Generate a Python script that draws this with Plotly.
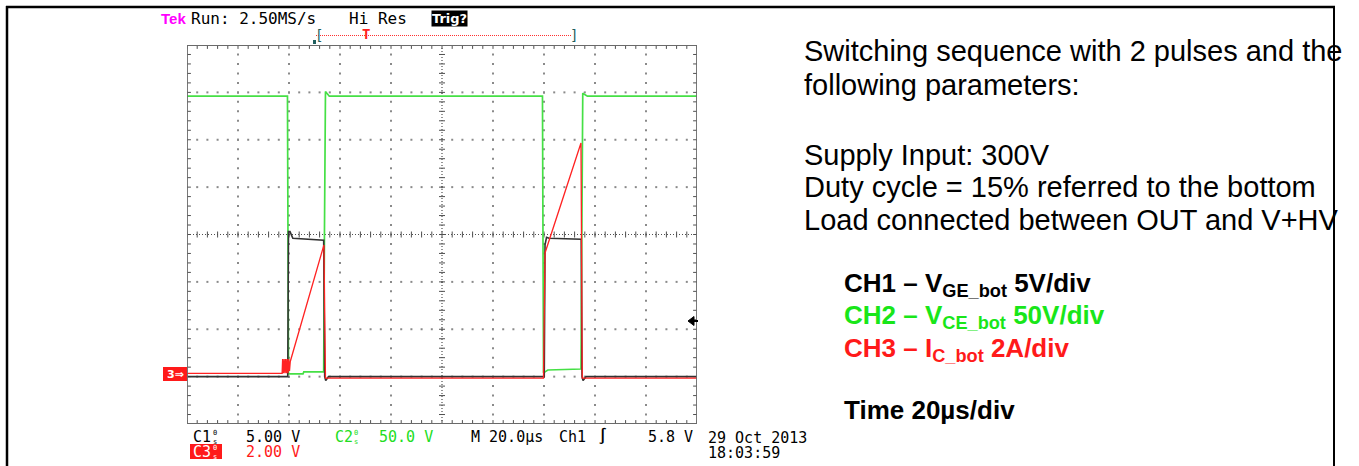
import plotly.graph_objects as go

W, H = 1359, 466

TIME_PER_DIV = 20.0            # µs/div
CH1_SCALE, CH1_GND = 5.0, -3.0     # V/div, ground position in divisions
CH2_SCALE, CH2_GND = 50.0, -3.0    # V/div
CH3_SCALE, CH3_GND = 2.0, -2.93    # A/div

# CH1 - V_GE bottom (V)
t_ch1 = [0, 39.5, 39.8, 40.4, 41.5, 53.6, 54.0, 54.4, 55.5,
         140.1, 140.4, 141.0, 142.0, 154.6, 154.9, 155.3, 156.5, 200]
v_ge = [0, 0, 15.3, 15.3, 14.6, 14.4, 0, -0.4, 0,
        0, 13.9, 14.7, 14.6, 14.5, 0, -0.4, 0, 0]

# CH2 - V_CE bottom (V)
t_ch2 = [0, 39.4, 39.8, 45.5, 45.8, 53.6, 53.9, 54.3, 55.8,
         139.4, 139.8, 141.5, 154.5, 154.8, 155.2, 157.0, 200]
v_ce = [296, 296, 3, 3, 5, 5, 150, 301, 296,
        296, 4, 7, 8, 150, 299, 296, 296]

# CH3 - I_C bottom (A)
t_ch3 = [0, 37.3, 37.5, 37.8, 38.1, 38.4, 38.7, 39.0, 39.3, 39.6, 39.9, 40.2, 40.5,
         53.7, 54.3, 139.8, 140.4, 154.5, 155.0, 200]
i_c = [0, 0, 0.6, 0.0, 0.6, 0.0, 0.6, 0.0, 0.6, 0.0, 0.6, 0.1, 0.5,
       5.42, -0.2, -0.2, 5.08, 9.72, -0.2, -0.2]

# ---------------- helpers ----------------
def to_div(vals, scale, gnd):
    return [v / scale + gnd for v in vals]

def px(x):
    return x / W

def py(y):
    return 1 - y / H

X0, X1, Y0, Y1 = 187, 697, 45, 424   # graticule in pixels
NDX, NDY = 10, 8
TMAX = NDX * TIME_PER_DIV

fig = go.Figure()

# ---------------- graticule ----------------
grid_col = "#8a8a8a"
gx, gy = [], []
for k in range(1, NDX):
    if k == NDX // 2:
        continue
    for j in range(0, NDY * 5 + 1):
        gx.append(k * TIME_PER_DIV)
        gy.append(-4 + j * 0.2)
for k in range(-3, 4):
    if k == 0:
        continue
    for j in range(0, NDX * 5 + 1):
        gx.append(j * TIME_PER_DIV / 5)
        gy.append(k)
fig.add_trace(go.Scatter(x=gx, y=gy, mode="markers",
                         marker=dict(size=2, color=grid_col, symbol="square"),
                         hoverinfo="skip", showlegend=False))

# centre crosshair (dense dotted) + ticks
fig.add_trace(go.Scatter(x=[0, TMAX, None, TMAX / 2, TMAX / 2], y=[0, 0, None, -4, 4],
                         mode="lines", line=dict(color="#505050", width=1.2, dash="1px,2px"),
                         hoverinfo="skip", showlegend=False))
tx, ty = [], []
hx = 3 * TIME_PER_DIV / 51.0
hy = 3 / 47.4
for j in range(0, NDX * 5 + 1):
    t = j * TIME_PER_DIV / 5
    tx += [t, t, None]
    ty += [-hy, hy, None]
    tx += [t, t, None, t, t, None]
    ty += [-4, -4 + 1.3 * hy, None, 4, 4 - 1.3 * hy, None]
for j in range(0, NDY * 5 + 1):
    v = -4 + j * 0.2
    tx += [TMAX / 2 - hx, TMAX / 2 + hx, None]
    ty += [v, v, None]
    tx += [0, 1.3 * hx, None, TMAX, TMAX - 1.3 * hx, None]
    ty += [v, v, None, v, v, None]
fig.add_trace(go.Scatter(x=tx, y=ty, mode="lines", line=dict(color="#505050", width=1),
                         hoverinfo="skip", showlegend=False))

# ---------------- waveforms ----------------
fig.add_trace(go.Scatter(x=t_ch2, y=to_div(v_ce, CH2_SCALE, CH2_GND), mode="lines",
                         line=dict(color="#45e045", width=1.7), name="CH2", showlegend=False))
fig.add_trace(go.Scatter(x=t_ch1, y=to_div(v_ge, CH1_SCALE, CH1_GND), mode="lines",
                         line=dict(color="#333333", width=1.6), name="CH1", showlegend=False))
fig.add_trace(go.Scatter(x=t_ch3, y=to_div(i_c, CH3_SCALE, CH3_GND), mode="lines",
                         line=dict(color="#ff2222", width=1.3), name="CH3", showlegend=False))

shapes = []
shapes.append(dict(type="rect", xref="x", yref="y", x0=0, x1=TMAX, y0=-4, y1=4,
                   line=dict(color="#6a6a6a", width=1.8)))
# outer frame of the slide
shapes.append(dict(type="line", xref="paper", yref="paper", x0=px(7), x1=px(7), y0=py(6), y1=py(470),
                   line=dict(color="black", width=2.5)))
shapes.append(dict(type="line", xref="paper", yref="paper", x0=px(6), x1=px(1335), y0=py(7), y1=py(7),
                   line=dict(color="black", width=2.5)))
shapes.append(dict(type="line", xref="paper", yref="paper", x0=px(1334), x1=px(1334), y0=py(6), y1=py(470),
                   line=dict(color="black", width=2)))
# record-length bar
shapes.append(dict(type="line", xref="paper", yref="paper", x0=px(316), x1=px(571), y0=py(35.5), y1=py(35.5),
                   line=dict(color="#ff3030", width=1, dash="1px,1px")))
# trigger position marker above graticule
shapes.append(dict(type="rect", xref="paper", yref="paper", x0=px(313), x1=px(316), y0=py(40), y1=py(44),
                   fillcolor="#1f5f5f", line=dict(width=0)))
# ground marker box (left) and CH3 label box
shapes.append(dict(type="rect", xref="paper", yref="paper", x0=px(163), x1=px(187), y0=py(367), y1=py(381),
                   fillcolor="#ff1a1a", line=dict(width=0)))
shapes.append(dict(type="rect", xref="paper", yref="paper", x0=px(190), x1=px(222), y0=py(444), y1=py(459),
                   fillcolor="#ff1a1a", line=dict(width=0)))
# trigger level arrow (right)
ax0, ay0 = 688, 321
path = (f"M {px(ax0)},{py(ay0)} L {px(ax0+6)},{py(ay0-4.5)} L {px(ax0+6)},{py(ay0+4.5)} Z")
shapes.append(dict(type="path", xref="paper", yref="paper", path=path,
                   fillcolor="black", line=dict(color="black", width=1)))
shapes.append(dict(type="line", xref="paper", yref="paper", x0=px(ax0 + 5), x1=px(698), y0=py(ay0), y1=py(ay0),
                   line=dict(color="black", width=2)))

ann = []

def text(x, y, s, size=15, color="black", family="DejaVu Sans Mono", weight="normal",
         xanchor="left", yanchor="middle", **kw):
    ann.append(dict(x=px(x), y=py(y), xref="paper", yref="paper", text=s, showarrow=False,
                    xanchor=xanchor, yanchor=yanchor,
                    font=dict(size=size, color=color, family=family, weight=weight), **kw))

# header
text(159, 18, "Tek", size=15, color="#ff00ff", weight="bold", family="Liberation Sans")
text(189, 18, "Run: 2.50MS/s", size=16)
text(347, 18, "Hi Res", size=16)
text(431, 18, "Trig?", size=13, color="white", weight="bold", family="DejaVu Sans",
     bgcolor="black", borderpad=0)
text(313, 35, "[", size=14, color="#1f5f5f")
text(568, 35, "]", size=14, color="#1f5f5f")
text(366, 34, "T", size=14, color="#ff2020", weight="bold", xanchor="center")
text(175, 374, "3⇒", size=11, color="white", weight="bold", family="DejaVu Sans", xanchor="center")

# bottom readouts
text(191, 437, "C1", size=15)
text(211, 437, "0<br>s", size=7)
text(244, 437, "5.00 V", size=15)
text(333, 437, "C2", size=15, color="#22dd22")
text(352, 437, "0<br>s", size=7, color="#22dd22")
text(377, 437, "50.0 V", size=15, color="#22dd22")
text(469, 437, "M 20.0µs", size=15)
text(557, 437, "Ch1", size=15)
text(596, 436, "∫", size=15, weight="bold")
text(695, 437, "5.8 V", size=15, xanchor="right")
text(706, 438, "29 Oct 2013", size=15)
text(706, 453, "18:03:59", size=15)
text(191, 452, "C3", size=15, color="white")
text(211, 452, "0<br>s", size=7, color="white")
text(244, 452, "2.00 V", size=15, color="#ff1a1a")

# right-hand description
F = "Liberation Sans"
text(802, 51, "Switching sequence with 2 pulses and the", size=29, family=F)
text(802, 85, "following parameters:", size=29, family=F)
text(802, 155, "Supply Input: 300V", size=29, family=F)
text(802, 187, "Duty cycle = 15% referred to the bottom", size=29, family=F)
text(802, 220, "Load connected between OUT and V+HV", size=29, family=F)
text(842, 284, "CH1 – V<sub>GE_bot</sub> 5V/div", size=26, family=F, weight="bold")
text(842, 316, "CH2 – V<sub>CE_bot</sub> 50V/div", size=26, family=F, weight="bold", color="#19e619")
text(842, 349, "CH3 – I<sub>C_bot</sub> 2A/div", size=26, family=F, weight="bold", color="#ff1a1a")
text(842, 410, "Time 20µs/div", size=26, family=F, weight="bold")

fig.update_layout(
    width=W, height=H, margin=dict(l=0, r=0, t=0, b=0),
    paper_bgcolor="white", plot_bgcolor="white",
    xaxis=dict(domain=[px(X0), px(X1)], range=[0, TMAX], showgrid=False, zeroline=False,
               showticklabels=False, ticks="", fixedrange=True),
    yaxis=dict(domain=[py(Y1), py(Y0)], range=[-4, 4], showgrid=False, zeroline=False,
               showticklabels=False, ticks="", fixedrange=True),
    shapes=shapes, annotations=ann, showlegend=False,
)

fig.write_html("out.html", config={"displayModeBar": False},
               post_script="document.body.style.margin='0';document.body.style.overflow='hidden';")
